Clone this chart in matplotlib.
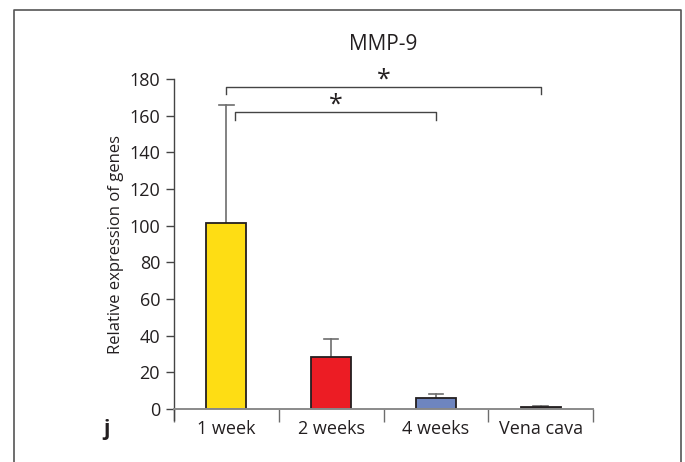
import matplotlib.pyplot as plt
from matplotlib.lines import Line2D

# data
groups = ['1 week', '2 weeks', '4 weeks', 'Vena cava']
values = [101.3, 28.5, 5.8, 1.2]
errors = [64.4, 9.7, 2.2, 0.7]
colours = ['#FEDD14', '#EC1C24', '#6E85BF', '#3A3A3A']
yticks = [0, 20, 40, 60, 80, 100, 120, 140, 160, 180]

# significance brackets: (start group, end group, bar height, star height)
brackets = [(0, 3, 175.8, 179.5), (0.08, 2, 162.0, 165.5)]

plt.rcParams['font.family'] = ['Open Sans', 'DejaVu Sans']

fig = plt.figure(figsize=(6.85, 4.62), dpi=100)
ax = fig.add_axes([174 / 685, 1 - 409 / 462, (593 - 174) / 685, (409 - 79) / 462])

x = list(range(len(groups)))
ax.bar(x, values, width=0.38, color=colours, edgecolor='#231F20', linewidth=1.3, zorder=3)
for xi, v, e in zip(x, values, errors):
    ax.plot([xi, xi], [v, v + e], color='#6d6d6d', lw=1.2, zorder=2)
    ax.plot([xi - 0.07, xi + 0.07], [v + e, v + e], color='#6d6d6d', lw=1.2, zorder=2)

for a, b, h, s in brackets:
    ax.plot([a, a, b, b], [h - 4.2, h, h, h - 4.2], color='#444444', lw=1.0, clip_on=False)
    ax.text((a + b) / 2, s, '*', ha='center', va='center', fontsize=18, color='#231F20')

ax.set_xlim(-0.5, 3.5)
ax.set_ylim(0, 180)
ax.set_yticks(yticks)
ax.set_yticklabels([str(t) for t in yticks], fontsize=13, color='#231F20')
ax.set_xticks([-0.5, 0.5, 1.5, 2.5, 3.5])
ax.set_xticklabels([])
ax.tick_params(axis='x', length=9, color='#6d6d6d', width=1.0)
ax.tick_params(axis='y', length=6, color='#444444', width=1.0, pad=4)
for xi, g in zip(x, groups):
    ax.text(xi, -11, g, ha='center', va='center', fontsize=13, color='#231F20')

for side in ['top', 'right']:
    ax.spines[side].set_visible(False)
ax.spines['bottom'].set_color('#8a8a8a')
ax.spines['bottom'].set_linewidth(1.4)
ax.spines['bottom'].set_zorder(4)
ax.spines['left'].set_color('#444444')
ax.spines['left'].set_linewidth(1.0)
ax.plot([-0.5, -0.5], [0, -6], color='#444444', lw=1.0, clip_on=False)

ax.set_ylabel('Relative expression of genes', fontsize=12, color='#231F20', labelpad=4)
ax.set_title('MMP-9', fontsize=15, color='#231F20', pad=21)
fig.text(107 / 685, 1 - 430 / 462, 'j', fontsize=15, fontweight='bold', ha='center', va='center', color='#231F20')

# outer frame of the panel
fig.add_artist(Line2D([14 / 685, 14 / 685, 681 / 685, 681 / 685], [0, 1 - 10 / 462, 1 - 10 / 462, 0],
                      transform=fig.transFigure, color='#555555', lw=1.2))

fig.savefig('out.png', dpi=100, facecolor='white')
